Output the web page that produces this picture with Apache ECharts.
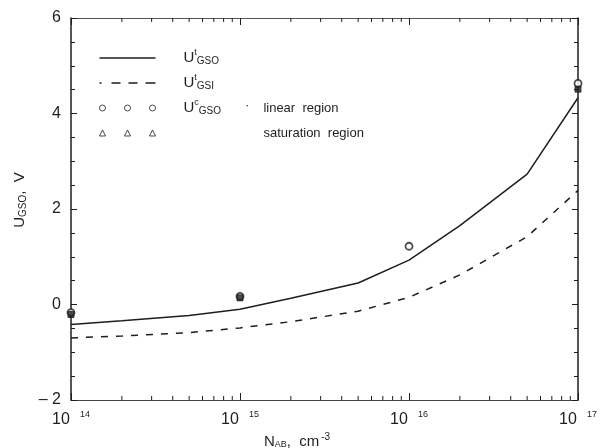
<!DOCTYPE html>
<html>
<head>
    <meta charset="utf-8">
    <script src="https://cdn.jsdelivr.net/npm/echarts@6/dist/echarts.min.js"></script>
</head>
<style type="text/css">
    body { margin: 0; background: #fff; }
</style>
<body>
<div style="width: 605px;height: 448px;" id="chart"></div>
<script>

let chart = echarts.init(document.getElementById('chart'));

// doping concentration N_AB, cm^-3
let conc = [1e14, 2e14, 5e14, 1e15, 2e15, 5e15, 1e16, 2e16, 5e16, 1e17];
// U^t_GSO (solid) and U^t_GSI (dashed), V
let uGso = [-0.42, -0.34, -0.23, -0.10, 0.13, 0.45, 0.93, 1.65, 2.73, 4.33];
let uGsi = [-0.70, -0.66, -0.59, -0.49, -0.36, -0.14, 0.15, 0.62, 1.42, 2.39];
// measured U^c_GSO
let linConc = [1e14, 1e15, 1e16, 1e17];
let linVal = [-0.17, 0.17, 1.22, 4.63];
let satConc = [1e14, 1e15, 1e17];
let satVal = [-0.21, 0.14, 4.51];

let yTicks = [-2, 0, 2, 4, 6];
let decades = [1e14, 1e15, 1e16];
let minorSteps = [2, 3, 4, 5, 6, 7, 8, 9];

// log-spaced minor ticks of the x axis
let minorTicks = [];
decades.forEach(d => minorSteps.forEach(m => minorTicks.push(d * m)));

let ink = '#1e1e1e';
let font = 'Liberation Sans';

let pair = (xs, ys) => xs.map((x, i) => [x, ys[i]]);

// legend icons
let solidIcon = 'path://M0,0h56v1.5h-56z';
let dashIcon = 'path://M0,0h2v1.5h-2z M12,0h9v1.5h-9z M29,0h9v1.5h-9z M46,0h10v1.5h-10z';
let threeCircles = 'path://M0,3a3,3 0 1,0 6,0a3,3 0 1,0 -6,0z M25,3a3,3 0 1,0 6,0a3,3 0 1,0 -6,0z M50,3a3,3 0 1,0 6,0a3,3 0 1,0 -6,0z';
let threeTriangles = 'path://M0,6L3,0L6,6z M25,6L28,0L31,6z M50,6L53,0L56,6z';

let rich = {
    u: {fontSize: 15, fontFamily: font, color: ink, padding: [0, 0, 0, 23]},
    sp: {fontSize: 9, fontFamily: font, color: ink, verticalAlign: 'top', padding: [0, 0, 8, 0]},
    sb: {fontSize: 10, fontFamily: font, color: ink, padding: [6, 0, 0, 0]},
    dot: {fontSize: 13, fontFamily: font, color: ink, padding: [0, 14, 6, 24]},
    gap: {width: 103, fontSize: 13},
    r: {fontSize: 13, fontFamily: font, color: ink}
};

let sideAxis = {
    axisLine: {show: true, onZero: false, lineStyle: {color: ink, width: 1.5}},
    axisTick: {inside: true, length: 6, lineStyle: {color: ink}},
    minorTick: {show: true, splitNumber: 4, length: 4, lineStyle: {color: ink}},
    splitLine: {show: false}
};

let option = {
    backgroundColor: '#fff',
    animation: false,
    grid: {left: 71, right: 27, top: 18, bottom: 48, outerBoundsMode: 'none', containLabel: false},
    legend: {
        orient: 'vertical',
        left: 99,
        top: 48,
        padding: 0,
        itemWidth: 56,
        itemHeight: 6,
        itemGap: 5,
        selectedMode: false,
        textStyle: {rich: rich, lineHeight: 20},
        data: [
            {name: 'gso', icon: solidIcon, itemStyle: {color: ink, borderWidth: 0}},
            {name: 'gsi', icon: dashIcon, itemStyle: {color: ink, borderWidth: 0}},
            {name: 'lin', icon: threeCircles, itemStyle: {color: '#fff', borderColor: ink, borderWidth: 1}},
            {name: 'sat', icon: threeTriangles, itemStyle: {color: '#fff', borderColor: ink, borderWidth: 1}}
        ],
        formatter: name => {
            if (name === 'gso') return '{u|U}{sp|t}{sb|GSO}';
            if (name === 'gsi') return '{u|U}{sp|t}{sb|GSI}';
            if (name === 'lin') return '{u|U}{sp|c}{sb|GSO}{dot|·}{r|linear  region}';
            return '{gap| }{r|saturation  region}';
        }
    },
    xAxis: [{
        type: 'log',
        logBase: 10,
        min: 1e14,
        max: 1e17,
        splitNumber: 3,
        name: '{n|N}{s|AB}{n|,  cm}{e|-3}',
        nameLocation: 'middle',
        nameGap: 31,
        nameTextStyle: {
            padding: [0, 55, 0, 0],
            rich: {
                n: {fontSize: 15, fontFamily: font, color: ink},
                s: {fontSize: 9, fontFamily: font, color: ink, padding: [6, 0, 0, 0]},
                e: {fontSize: 10, fontFamily: font, color: ink, verticalAlign: 'top', padding: [0, 0, 8, 2]}
            }
        },
        axisLine: {onZero: false, lineStyle: {color: '#444', width: 1}},
        axisTick: {inside: true, length: 7, lineStyle: {color: ink}},
        minorTick: {show: false},
        splitLine: {show: false},
        axisLabel: {
            margin: 10,
            formatter: v => '{b|10}{e|' + Math.round(Math.log10(v)) + '}',
            rich: {
                b: {fontSize: 16, fontFamily: font, color: ink},
                e: {fontSize: 9, fontFamily: font, color: ink, verticalAlign: 'top', padding: [0, 0, 10, 10]}
            }
        }
    }, {
        type: 'log',
        logBase: 10,
        min: 1e14,
        max: 1e17,
        splitNumber: 3,
        position: 'top',
        axisLine: {show: true, onZero: false, lineStyle: {color: '#555', width: 1}},
        axisTick: {inside: true, length: 7, lineStyle: {color: ink}},
        minorTick: {show: false},
        axisLabel: {show: false},
        splitLine: {show: false}
    }],
    yAxis: [Object.assign({
        type: 'value',
        min: yTicks[0],
        max: yTicks[yTicks.length - 1],
        interval: 2,
        name: '{u|U}{s|GSO}{u|,  V}',
        nameLocation: 'middle',
        nameGap: 42,
        nameTextStyle: {
            padding: [0, 0, 0, 18],
            rich: {
                u: {fontSize: 15, fontFamily: font, color: ink},
                s: {fontSize: 10, fontFamily: font, color: ink, padding: [6, 0, 0, 0]}
            }
        },
        axisLabel: {
            margin: 10,
            fontSize: 16,
            fontFamily: font,
            color: ink,
            formatter: v => v < 0 ? '\u2013 ' + Math.abs(v) : String(v)
        }
    }, sideAxis), Object.assign({
        type: 'value',
        min: yTicks[0],
        max: yTicks[yTicks.length - 1],
        interval: 2,
        position: 'right',
        axisLabel: {show: false}
    }, sideAxis)],
    series: [{
        name: 'gso',
        type: 'line',
        data: pair(conc, uGso),
        symbol: 'none',
        itemStyle: {color: ink},
        lineStyle: {color: ink, width: 1.5}
    }, {
        name: 'gsi',
        type: 'line',
        data: pair(conc, uGsi),
        symbol: 'none',
        itemStyle: {color: ink},
        lineStyle: {color: ink, width: 1.5, type: [7, 8]}
    }, {
        name: 'lin',
        type: 'scatter',
        data: pair(linConc, linVal),
        symbol: 'circle',
        symbolSize: 7,
        clip: false,
        itemStyle: {color: '#fff', borderColor: ink, borderWidth: 1.8}
    }, {
        name: 'sat',
        type: 'scatter',
        data: pair(satConc, satVal),
        symbol: 'rect',
        symbolSize: 6,
        clip: false,
        itemStyle: {color: ink, borderColor: ink, borderWidth: 1}
    }, {
        // minor ticks on bottom and top x axes
        name: 'minor',
        type: 'custom',
        silent: true,
        data: minorTicks,
        encode: {x: 0},
        renderItem: (params, api) => {
            let x = api.coord([api.value(0), yTicks[0]])[0];
            let cs = params.coordSys;
            let style = {stroke: ink, lineWidth: 1};
            return {
                type: 'group',
                children: [
                    {type: 'line', shape: {x1: x, y1: cs.y + cs.height, x2: x, y2: cs.y + cs.height - 4}, style: style},
                    {type: 'line', shape: {x1: x, y1: cs.y, x2: x, y2: cs.y + 4}, style: style}
                ]
            };
        }
    }]
};

chart.setOption(option);

</script>
</body>
</html>
